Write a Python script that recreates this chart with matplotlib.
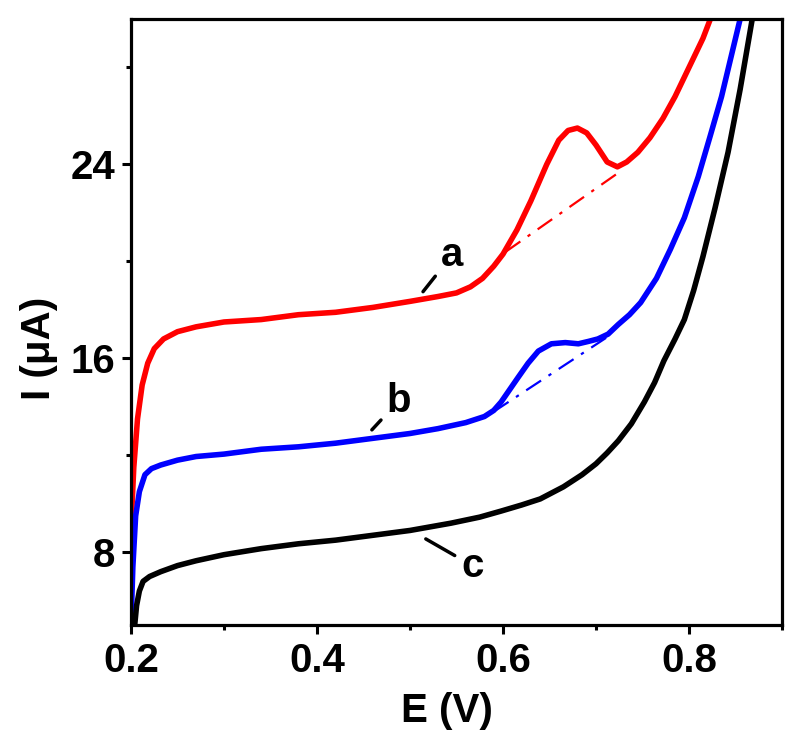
import matplotlib
matplotlib.use("Agg")
import matplotlib.pyplot as plt
from matplotlib.ticker import FixedLocator

# ─── Data (E in V, I in uA) ─────────────────────────────────
E_A = [0.200, 0.203, 0.207, 0.212, 0.218, 0.225, 0.235, 0.250, 0.270, 0.300,
       0.340, 0.380, 0.420, 0.460, 0.500, 0.530, 0.550, 0.565, 0.578, 0.590,
       0.600, 0.615, 0.630, 0.647, 0.660, 0.670, 0.680, 0.690, 0.700, 0.712,
       0.723, 0.733, 0.745, 0.758, 0.772, 0.785, 0.795, 0.805, 0.815, 0.823]
I_A = [9.0, 11.5, 13.5, 14.9, 15.8, 16.4, 16.8, 17.1, 17.3, 17.5,
       17.6, 17.8, 17.9, 18.1, 18.35, 18.55, 18.7, 18.95, 19.3, 19.8,
       20.3, 21.3, 22.5, 24.0, 25.0, 25.4, 25.5, 25.3, 24.8, 24.1,
       23.9, 24.1, 24.5, 25.1, 25.9, 26.8, 27.6, 28.4, 29.2, 30.0]

E_B = [0.200, 0.202, 0.205, 0.209, 0.215, 0.222, 0.232, 0.250, 0.270, 0.300,
       0.340, 0.380, 0.420, 0.460, 0.500, 0.530, 0.560, 0.580, 0.590, 0.598,
       0.607, 0.616, 0.627, 0.638, 0.652, 0.667, 0.681, 0.692, 0.702, 0.713,
       0.724, 0.736, 0.748, 0.765, 0.780, 0.795, 0.810, 0.823, 0.835, 0.845,
       0.855]
I_B = [5.0, 7.4, 9.5, 10.5, 11.2, 11.45, 11.6, 11.8, 11.95, 12.05,
       12.25, 12.35, 12.5, 12.7, 12.9, 13.1, 13.35, 13.6, 13.85, 14.2,
       14.7, 15.2, 15.8, 16.3, 16.6, 16.65, 16.6, 16.7, 16.8, 17.0,
       17.4, 17.8, 18.3, 19.3, 20.5, 21.8, 23.5, 25.2, 26.8, 28.4,
       30.0]

E_C = [0.204, 0.206, 0.209, 0.213, 0.220, 0.232, 0.250, 0.270, 0.300, 0.340,
       0.380, 0.420, 0.460, 0.500, 0.544, 0.575, 0.598, 0.620, 0.640, 0.665,
       0.685, 0.700, 0.712, 0.724, 0.738, 0.752, 0.763, 0.773, 0.785, 0.795,
       0.805, 0.815, 0.828, 0.842, 0.855, 0.868]
I_C = [5.0, 5.8, 6.4, 6.8, 7.0, 7.2, 7.45, 7.65, 7.9, 8.15,
       8.35, 8.5, 8.7, 8.9, 9.2, 9.45, 9.7, 9.95, 10.2, 10.7,
       11.2, 11.65, 12.1, 12.6, 13.3, 14.2, 15.0, 15.9, 16.8, 17.6,
       18.8, 20.2, 22.2, 24.5, 27.1, 30.0]

# baselines (dash-dot) under the oxidation peaks
BASE_A_E = [0.603, 0.722]
BASE_A_I = [20.4, 23.6]
BASE_B_E = [0.590, 0.715]
BASE_B_I = [13.8, 16.95]

# curve labels: (text, point on curve, text position)
LABELS = [("a", (0.514, 18.75), (0.545, 20.25)),
          ("b", (0.459, 13.05), (0.488, 14.25)),
          ("c", (0.517, 8.55), (0.567, 7.45))]

X_MAJOR = [0.2, 0.4, 0.6, 0.8]
X_MINOR = [0.3, 0.5, 0.7, 0.9]
Y_MAJOR = [8, 16, 24]
Y_MINOR = [12, 20, 28]

plt.rcParams["font.family"] = ["Liberation Sans", "DejaVu Sans"]
plt.rcParams["font.weight"] = "bold"
FS = 29

fig = plt.figure(figsize=(8.0, 7.53), dpi=100)
ax = fig.add_axes([0.16375, 0.170, 0.81375, 0.8048])

line_kw = dict(lw=4.0, solid_joinstyle="round", solid_capstyle="butt")
ax.plot(E_A, I_A, color="#ff0000", **line_kw)
ax.plot(E_B, I_B, color="#0000ff", **line_kw)
ax.plot(E_C, I_C, color="black", **line_kw)
ax.plot(BASE_A_E, BASE_A_I, color="#ff0000", lw=1.6, linestyle=(0, (8, 4, 1.5, 4)))
ax.plot(BASE_B_E, BASE_B_I, color="#0000ff", lw=1.6, linestyle=(0, (8, 4, 1.5, 4)))

for txt, pt, tpos in LABELS:
    ax.annotate(txt, xy=pt, xytext=tpos, ha="center", va="center",
                fontsize=FS, fontweight="bold",
                arrowprops=dict(arrowstyle="-", lw=2.5, color="black",
                                shrinkA=3, shrinkB=0))

ax.set_xlim(0.2, 0.9)
ax.set_ylim(5, 30)
ax.xaxis.set_major_locator(FixedLocator(X_MAJOR))
ax.xaxis.set_minor_locator(FixedLocator(X_MINOR))
ax.yaxis.set_major_locator(FixedLocator(Y_MAJOR))
ax.yaxis.set_minor_locator(FixedLocator(Y_MINOR))
ax.set_xticklabels([f"{v:.1f}" for v in X_MAJOR])
ax.set_yticklabels([str(v) for v in Y_MAJOR])

ax.tick_params(which="both", direction="out", width=2.2, top=False, right=False)
ax.tick_params(which="major", length=6.5, labelsize=FS)
ax.tick_params(axis="x", which="major", pad=6)
ax.tick_params(axis="y", which="major", pad=5)
ax.tick_params(which="minor", length=3.5)
for sp in ax.spines.values():
    sp.set_linewidth(2.3)

ax.set_xlabel("E (V)", fontsize=FS, fontweight="bold")
ax.set_ylabel("I (μA)", fontsize=FS, fontweight="bold")
ax.xaxis.set_label_coords(0.485, -0.11)
ax.yaxis.set_label_coords(-0.112, 0.457)

fig.savefig("out.png", dpi=100)
